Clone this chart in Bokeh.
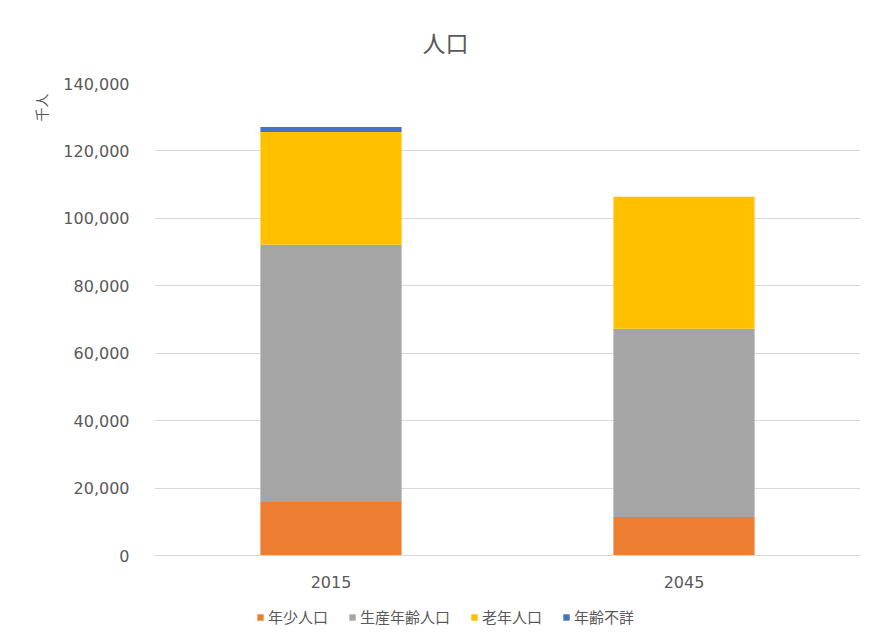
from bokeh.plotting import figure
from bokeh.layouts import column
from bokeh.models import (FactorRange, FixedTicker, NumeralTickFormatter, Legend,
                          LegendItem, Title, Range1d)
from bokeh.embed import file_html
from bokeh.resources import INLINE

years = ["2015", "2045"]
series_names = ["年少人口", "生産年齢人口", "老年人口", "年齢不詳"]
young = [15887, 11384]
working = [76289, 55845]
elderly = [33465, 39192]
unknown = [1454, 0]
y_ticks = [0, 20000, 40000, 60000, 80000, 100000, 120000, 140000]
colors = ["#ED7D31", "#A5A5A5", "#FFC000", "#4472C4"]

JP = "Noto Sans CJK JP"
NUM = "DejaVu Sans"
TXT = "#595959"

data = {"year": years, "young": young, "working": working,
        "elderly": elderly, "unknown": unknown}
keys = ["young", "working", "elderly", "unknown"]

p = figure(width=861, height=600, x_range=FactorRange(*years, range_padding=0),
           y_range=(0, 140000), output_backend="svg", toolbar_location=None,
           min_border_left=154, min_border_right=1, min_border_top=83,
           min_border_bottom=45)

renderers = p.vbar_stack(keys, x="year", width=0.4, color=colors, source=data,
                         line_width=0)

p.title.text = "人口"
p.title.align = "left"
p.title.vertical_align = "middle"
p.title.offset = 268
p.title.standoff = 47
p.title.text_font = JP
p.title.text_font_size = "23px"
p.title.text_font_style = "normal"
p.title.text_color = TXT

p.outline_line_color = None
p.xgrid.grid_line_color = None
p.ygrid.grid_line_color = "#D9D9D9"
p.ygrid.grid_line_width = 1

p.yaxis.ticker = FixedTicker(ticks=y_ticks)
p.yaxis.formatter = NumeralTickFormatter(format="0,0")
for ax in (p.xaxis[0], p.yaxis[0]):
    ax.major_tick_line_color = None
    ax.minor_tick_line_color = None
    ax.major_label_text_font = NUM
    ax.major_label_text_font_size = "16px"
    ax.major_label_text_color = TXT
p.yaxis.axis_line_color = None
p.yaxis.major_label_standoff = 19
p.xaxis.axis_line_color = "#D9D9D9"
p.xaxis.major_label_standoff = 14

ylab = Title(text="千人", align="right", offset=10, standoff=20,
             text_font=JP, text_font_size="14px", text_font_style="normal",
             text_color=TXT)
p.add_layout(ylab, "left")

# legend strip below the chart: same stacked data as hidden renderers
pl = figure(width=861, height=27, output_backend="svg", toolbar_location=None,
            x_axis_type=None, y_axis_type=None,
            x_range=FactorRange(*years, range_padding=0), y_range=Range1d(200000, 200001),
            min_border_left=154, min_border_right=1, min_border_top=0,
            min_border_bottom=0)
pl.outline_line_color = None
pl.grid.visible = False
swatches = pl.vbar_stack(keys, x="year", width=0.4, color=colors, source=data,
                         line_width=0)
for r in swatches:
    r.visible = False
items = [LegendItem(label=n, renderers=[r]) for n, r in zip(series_names, swatches)]
legend = Legend(items=items, orientation="horizontal", location=(102, 0),
                glyph_width=8, glyph_height=8, label_standoff=4, spacing=20,
                padding=0, margin=0, border_line_color=None,
                background_fill_alpha=0, inactive_fill_alpha=0,
                label_text_font=JP,
                label_text_font_size="15px", label_text_color=TXT)
pl.add_layout(legend, "center")

layout = column(p, pl, spacing=0)
open("out.html", "w").write(file_html(layout, INLINE))
